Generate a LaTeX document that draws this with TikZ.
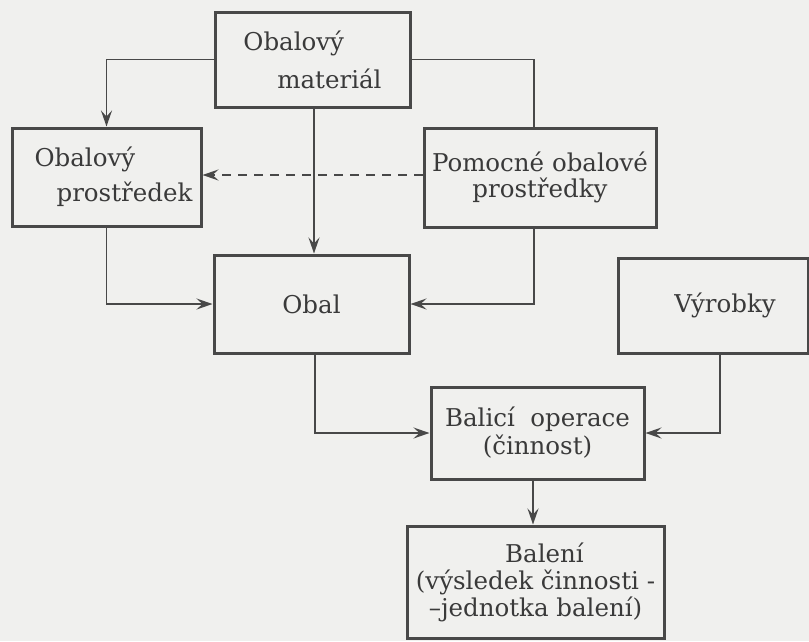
\documentclass[tikz,border=0pt]{standalone}
\usepackage{fontspec}
\setmainfont{DejaVu Serif}
\usetikzlibrary{arrows.meta}
\definecolor{ink}{HTML}{484848}
\definecolor{inktext}{HTML}{3A3A3A}
\definecolor{paper}{HTML}{F0F0EE}
\begin{document}
\begin{tikzpicture}[x=1pt,y=-1pt,
  box/.style={draw=ink, line width=3pt, rectangle, inner sep=0pt, text=inktext},
  txt/.style={font=\fontsize{24.5}{#1}\selectfont},
  arr/.style={draw=ink, line width=1.9pt, -{Stealth[length=16pt,width=11pt,inset=6pt]}},
  link/.style={draw=ink, line width=1.9pt}]
\fill[paper] (0,0) rectangle (809,641);
\useasboundingbox (0,0) rectangle (809,641);

\node[box, txt=38, align=left, minimum width=195pt, minimum height=95pt] (mat) at (312.5,59.5)
  {Obalový\\\hspace*{34pt}materiál};
\node[box, txt=35, align=left, minimum width=189pt, minimum height=98pt] (pros) at (106.5,177)
  {\hspace*{14pt}Obalový\\\hspace*{36pt}prostředek};
\node[box, txt=28, align=center, minimum width=232pt, minimum height=99pt] (pom) at (540,177.5)
  {Pomocné obalové\\[-2pt]prostředky};
\node[box, txt=28, align=center, minimum width=195pt, minimum height=98pt] (obal) at (311.5,304)
  {Obal};
\node[box, txt=28, align=left, minimum width=190pt, minimum height=95pt] (vyr) at (713,305.5)
  {\hspace*{24pt}Výrobky};
\node[box, txt=28, align=center, minimum width=213pt, minimum height=92pt] (bal) at (537.5,433)
  {Balicí\ \ operace\\(činnost)};
\node[box, txt=27, align=center, minimum width=257pt, minimum height=112pt] (baleni) at (535.5,582)
  {\hspace*{18pt}Balení\\(výsledek činnosti -\\–jednotka balení)};

\draw[arr] (mat.west) -| (pros.north);
\draw[link] (mat.east) -| ([xshift=-6pt]pom.north);
\draw[arr] ([xshift=1.5pt]mat.south) -- ([xshift=1.5pt]mat.south |- obal.north);
\draw[arr, dash pattern=on 9pt off 7pt] ([yshift=2.5pt]pom.west) -- ([yshift=2.5pt]pom.west -| pros.east);
\draw[arr] (pros.south) |- (obal.west);
\draw[arr] ([xshift=-6pt]pom.south) |- (obal.east);
\draw[arr] ([xshift=3.5pt]obal.south) |- (bal.west);
\draw[arr] ([xshift=7pt]vyr.south) |- (bal.east);
\draw[arr] ([xshift=-4.5pt]bal.south) -- ([xshift=-4.5pt]bal.south |- baleni.north);
\end{tikzpicture}
\end{document}
